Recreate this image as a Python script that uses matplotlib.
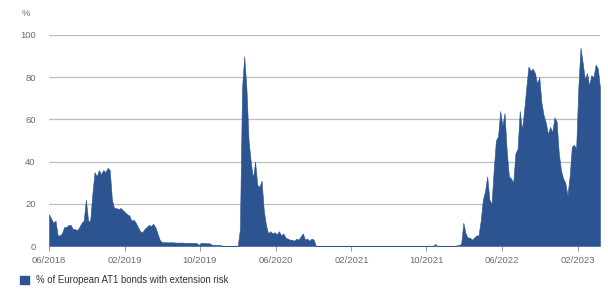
import matplotlib
matplotlib.use("Agg")
import matplotlib.pyplot as plt
import matplotlib.dates as mdates
from matplotlib.patches import Patch
import pandas as pd

# ---- data (weekly readings, % of European AT1 bonds with extension risk) ----
start_date = "2018-06-01"
pct_ext_risk = [
    15, 13, 11, 12, 5, 5, 6, 9, 9, 10, 10, 8, 8, 7.5, 9, 11, 12, 22, 12, 12,
    25, 35, 33, 36, 34, 36, 35, 37, 36, 22, 18, 18, 17.5, 18, 17, 16, 15, 14.5, 12, 12.5,
    11, 9, 7, 6.5, 8, 9, 10, 9.5, 10.5, 9, 6, 3, 1.8,
    1.8, 1.8, 1.7, 1.8, 1.7, 1.7, 1.6, 1.6, 1.6, 1.6, 1.5, 1.5, 1.5, 1.5, 1.5, 1.4,
    0.5, 1.5, 1.4, 1.4, 1.3, 1.3, 0.6, 0.6, 0.5, 0.5, 0.5,
    0, 0, 0, 0, 0, 0, 0, 0,
    8, 75, 90, 75, 50, 40, 32, 40, 29, 28, 31, 17, 10, 6, 7, 6, 6.5, 5.5, 7, 5,
    6, 4, 3.5, 3, 3, 2.5, 3.5, 3, 4.5, 6, 3, 3.5, 2.5, 3.5, 3, 0,
    0, 0, 0, 0, 0, 0, 0, 0, 0, 0, 0, 0, 0, 0, 0, 0, 0, 0,
    0, 0, 0, 0, 0, 0, 0, 0, 0, 0, 0, 0, 0, 0, 0, 0, 0, 0,
    0, 0, 0, 0, 0, 0, 0, 0, 0, 0, 0, 0, 0, 0, 0, 0, 0, 0,
    1,
    0, 0, 0, 0, 0, 0, 0, 0, 0,
    0.3, 0.5, 1, 11, 6, 4, 4, 3, 4, 5, 5, 12, 22, 26, 33, 22, 20, 36, 50, 52,
    64, 57, 63, 45, 33, 32, 30, 44, 46, 64, 55, 64, 75, 85, 83, 84, 82, 77, 80, 68,
    62, 58.5, 53, 56.5, 54, 61, 59, 44, 36, 32, 30, 24, 33, 47, 48, 46, 75, 94, 87, 79,
    82, 76, 81, 80, 86, 84, 75,
]
series_label = "% of European AT1 bonds with extension risk"
y_ticks = [0, 20, 40, 60, 80, 100]
x_tick_dates = ["2018-06-01", "2019-02-01", "2019-10-01", "2020-06-01",
                "2021-02-01", "2021-10-01", "2022-06-01", "2023-02-01"]

dates = pd.date_range(start_date, periods=len(pct_ext_risk), freq="7D")

# ---- style ----
plt.rcParams["font.family"] = ["Liberation Sans", "DejaVu Sans"]
FILL = "#2c5491"
GRID = "#bdbdbd"
TICK_TXT = "#6b6b6b"

W, H = 608, 297
fig = plt.figure(figsize=(W / 100, H / 100), dpi=100)
left, right, top, bottom = 49, 600, 35, 246
ax = fig.add_axes([left / W, 1 - bottom / H, (right - left) / W, (bottom - top) / H])

ax.fill_between(dates, 0, pct_ext_risk, color=FILL, linewidth=0.4, edgecolor=FILL,
                label=series_label, zorder=3)

ax.set_xlim(dates[0], dates[-1])
ax.set_ylim(0, 100)
ax.set_yticks(y_ticks)
ax.yaxis.grid(True, color=GRID, linewidth=0.9, zorder=0)
ax.set_axisbelow(True)
for s in ax.spines.values():
    s.set_visible(False)

ax.set_xticks(pd.to_datetime(x_tick_dates))
ax.xaxis.set_major_formatter(mdates.DateFormatter("%m/%Y"))
ax.tick_params(axis="x", length=3.5, width=0.7, color="#9a9a9a", pad=4,
               labelsize=6.8, labelcolor=TICK_TXT)
ax.tick_params(axis="y", length=0, pad=9.5, labelsize=6.8, labelcolor=TICK_TXT)

fig.text(22 / W, 1 - 13 / H, "%", fontsize=6.8, color=TICK_TXT, va="center", ha="left")

fig.legend(handles=[Patch(facecolor=FILL, edgecolor=FILL, label=series_label)],
           loc="center left", bbox_to_anchor=(20 / W, 1 - 280 / H), frameon=False,
           fontsize=6.9, handlelength=0.9, handleheight=0.9, handletextpad=0.8,
           labelcolor="#333333", borderaxespad=0, borderpad=0)

fig.savefig("out.png", dpi=100)
